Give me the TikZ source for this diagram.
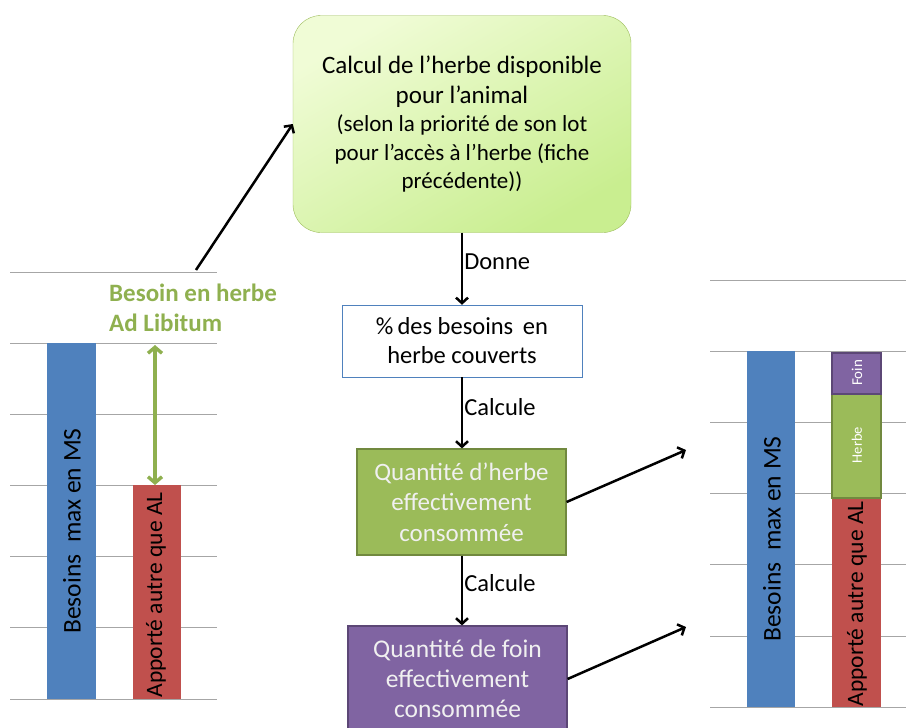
\documentclass[tikz,border=0pt]{standalone}
\usepackage{fontspec}
\setmainfont{Carlito}
\usetikzlibrary{arrows.meta}
\definecolor{barblue}{HTML}{4F81BD}
\definecolor{barred}{HTML}{C0504D}
\definecolor{bargreen}{HTML}{9BBB59}
\definecolor{bargreendk}{HTML}{71893F}
\definecolor{barpurple}{HTML}{8064A2}
\definecolor{barpurpledk}{HTML}{5C4776}
\definecolor{gridgray}{HTML}{A6A6A6}
\definecolor{labgreen}{HTML}{8FB04F}
\definecolor{topA}{HTML}{F0FCD6}
\definecolor{topB}{HTML}{C9EE90}
\tikzset{
  flow/.style={draw, align=center, inner sep=2pt},
  arr/.style={line width=2.5pt, -{Straight Barb[length=5.5pt,width=12pt]}},
  gridl/.style={draw=gridgray, line width=0.9pt},
  barlabel/.style={rotate=90, font=\fontsize{25.5}{30}\selectfont},
  steplabel/.style={right, font=\fontsize{24.5}{28}\selectfont, inner sep=1pt},
}
\begin{document}
\begin{tikzpicture}[x=1pt,y=-1pt]
\useasboundingbox (0,0) rectangle (906,728);
\clip (0,0) rectangle (906,728);

% left chart
\foreach \y in {272,343,414,485,556,627,699}
  \draw[gridl] (10,\y) -- (217,\y);
\fill[barblue] (47,343) rectangle (96,699);
\fill[barred] (133,485) rectangle (181,699);
\node[barlabel] (maxL) at (72,531) {Besoins\ \ max en MS};
\node[barlabel, font=\fontsize{23.5}{28}\selectfont] (autreL) at (156,595) {Apporté autre que AL};
\node[anchor=west, align=left, text=labgreen, font=\bfseries\fontsize{25}{30}\selectfont, inner sep=0pt] (adlib) at (109,308)
  {Besoin en herbe\\Ad Libitum};
\coordinate (adtop) at (155,345);
\coordinate (adbot) at (155,485);
\draw[labgreen, line width=3.4pt, {Straight Barb[length=6pt,width=14pt]}-{Straight Barb[length=6pt,width=14pt]}] (adtop) -- (adbot);
\coordinate (needtop) at (196,270);

% flow
\node[flow, draw=bargreen, rounded corners=28pt, top color=topA, bottom color=topB, shading angle=30,
  minimum width=338, minimum height=217, font=\fontsize{25}{28.5}\selectfont] (dispo) at (462,124)
  {Calcul de l’herbe disponible\\[1.5pt]
   pour l’animal\\
   {\fontsize{23}{28}\selectfont (selon la priorité de son lot}\\
   {\fontsize{23}{28}\selectfont pour l’accès à l’herbe (fiche}\\
   {\fontsize{23}{28}\selectfont précédente))}};
\node[flow, draw=barblue, fill=white, minimum width=240, minimum height=72,
  font=\fontsize{24.5}{29}\selectfont] (pct) at (462,341) {\%\,des besoins\, en\\herbe couverts};
\node[flow, draw=bargreendk, line width=1.2pt, fill=bargreen, text=white!94!black, minimum width=209, minimum height=106,
  font=\fontsize{25}{30.5}\selectfont] (herbe) at (461.5,502) {Quantité d’herbe\\effectivement\\consommée};
\node[flow, draw=barpurpledk, line width=1.2pt, fill=barpurple, text=white!94!black, minimum width=219, minimum height=106,
  font=\fontsize{25.5}{30}\selectfont] (foin) at (457.5,679) {Quantité de foin\\effectivement\\consommée};

\draw[arr] (needtop) -- (dispo.west);
\draw[arr] (dispo.south -| pct.north) -- node[steplabel, pos=0.4] {Donne} (pct.north);
\draw[arr] (pct.south) -- node[steplabel, pos=0.42] {Calcule} (pct.south |- herbe.north);
\draw[arr] (pct.south |- herbe.south) -- node[steplabel, pos=0.4] {Calcule} (pct.south |- foin.north);
\coordinate (toherbe) at (686,450);
\coordinate (tofoin) at (686,627);
\draw[arr] (herbe.east) -- (toherbe);
\draw[arr] (foin.east) -- (tofoin);

% right chart
\foreach \y in {280,351,422,493,564,636,707}
  \draw[gridl] (710,\y) -- (906,\y);
\fill[barblue] (747,351) rectangle (795,707);
\fill[barred] (832,499) rectangle (881,707);
\draw[bargreendk, fill=bargreen, line width=1.2pt] (832,394) rectangle (881,498);
\draw[barpurpledk, fill=barpurple, line width=1.2pt] (832,353) rectangle (881,394);
\node[barlabel] (maxR) at (772,539) {Besoins\ \ max en MS};
\node[barlabel, font=\fontsize{23.5}{28}\selectfont] (autreR) at (857,604) {Apporté autre que AL};
\node[barlabel, text=white, font=\fontsize{14.5}{17}\selectfont] (herbeR) at (857,445) {Herbe};
\node[barlabel, text=white, font=\fontsize{15}{17}\selectfont] (foinR) at (857,373) {Foin};
\end{tikzpicture}
\end{document}
